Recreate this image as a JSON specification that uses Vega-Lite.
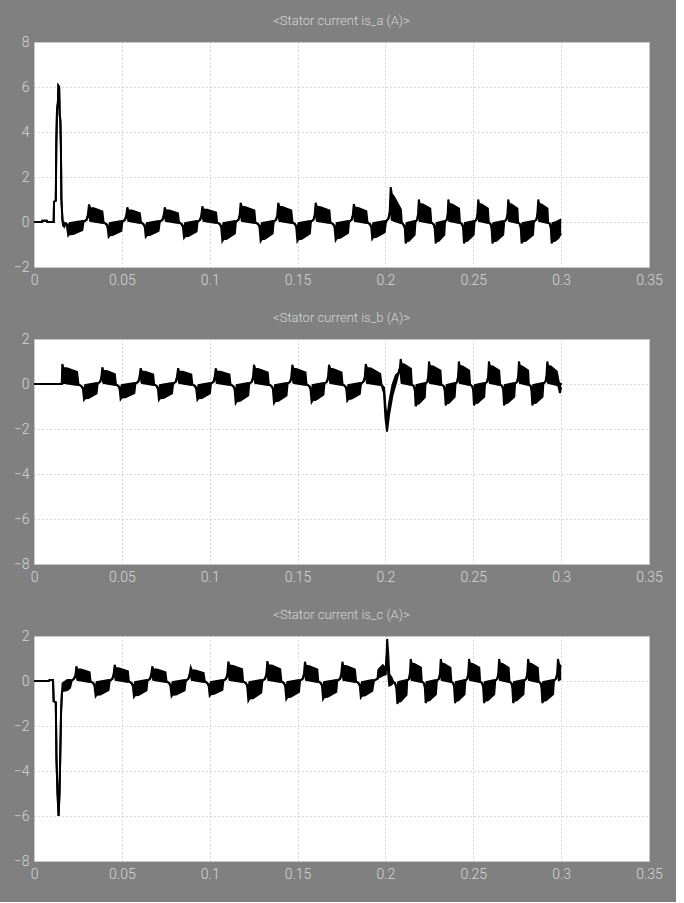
{
"$schema": "https://vega.github.io/schema/vega-lite/v6.json",
"background": "#808080",
"padding": {"left": 12, "top": 14, "right": 13, "bottom": 20},
"datasets": {
"a": [
{"t":0,"lo":0,"hi":0},{"t":0.0045,"lo":0,"hi":0},{"t":0.0047,"lo":0.06,"hi":0.06},{"t":0.0073,"lo":0.06,"hi":0.06},{"t":0.0075,"lo":0,"hi":0},{"t":0.0112,"lo":0,"hi":0},
{"t":0.0114,"lo":0.9,"hi":0.9},{"t":0.0124,"lo":0.95,"hi":0.95},{"t":0.0127,"lo":3.5,"hi":3.5},{"t":0.0131,"lo":5.0,"hi":5.0},{"t":0.0136,"lo":5.3,"hi":5.3},{"t":0.0139,"lo":6.05,"hi":6.05},{"t":0.0143,"lo":6.0,"hi":6.0},{"t":0.0146,"lo":4.8,"hi":4.8},{"t":0.015,"lo":4.5,"hi":4.5},{"t":0.0153,"lo":3.4,"hi":3.4},{"t":0.0156,"lo":1.0,"hi":1.0},{"t":0.0162,"lo":0.1,"hi":0.1},{"t":0.0166,"lo":-0.15,"hi":-0.15},{"t":0.0172,"lo":-0.2,"hi":-0.2},{"t":0.0178,"lo":-0.05,"hi":-0.05},{"t":0.0186,"lo":-0.1,"hi":-0.1},
{"t":0.0195,"lo":-0.6,"hi":-0.24},{"t":0.0202,"lo":-0.54,"hi":-0.05},{"t":0.0223,"lo":-0.53,"hi":-0.02},{"t":0.0275,"lo":-0.36,"hi":0.04},{"t":0.0282,"lo":0.02,"hi":0.02},{"t":0.0299,"lo":0.1,"hi":0.1},{"t":0.0306,"lo":0.28,"hi":0.28},
{"t":0.0313,"lo":0.31,"hi":0.78},{"t":0.032,"lo":0.05,"hi":0.62},{"t":0.034,"lo":0.02,"hi":0.61},{"t":0.0389,"lo":-0.04,"hi":0.47},{"t":0.0396,"lo":-0.02,"hi":-0.02},{"t":0.0412,"lo":-0.1,"hi":-0.1},{"t":0.0418,"lo":-0.2,"hi":-0.2},
{"t":0.0425,"lo":-0.65,"hi":-0.26},{"t":0.0431,"lo":-0.59,"hi":-0.05},{"t":0.045,"lo":-0.57,"hi":-0.02},{"t":0.0497,"lo":-0.39,"hi":0.04},{"t":0.0503,"lo":0.02,"hi":0.02},{"t":0.0518,"lo":0.1,"hi":0.1},{"t":0.0525,"lo":0.28,"hi":0.28},
{"t":0.0531,"lo":0.26,"hi":0.65},{"t":0.0537,"lo":0.05,"hi":0.52},{"t":0.0556,"lo":0.02,"hi":0.51},{"t":0.0602,"lo":-0.04,"hi":0.39},{"t":0.0609,"lo":-0.02,"hi":-0.02},{"t":0.0623,"lo":-0.1,"hi":-0.1},{"t":0.063,"lo":-0.2,"hi":-0.2},
{"t":0.0636,"lo":-0.65,"hi":-0.26},{"t":0.0642,"lo":-0.59,"hi":-0.05},{"t":0.0662,"lo":-0.57,"hi":-0.02},{"t":0.0709,"lo":-0.39,"hi":0.04},{"t":0.0716,"lo":0.02,"hi":0.02},{"t":0.0731,"lo":0.1,"hi":0.1},{"t":0.0738,"lo":0.28,"hi":0.28},
{"t":0.0744,"lo":0.26,"hi":0.65},{"t":0.075,"lo":0.05,"hi":0.52},{"t":0.077,"lo":0.02,"hi":0.51},{"t":0.0819,"lo":-0.04,"hi":0.39},{"t":0.0825,"lo":-0.02,"hi":-0.02},{"t":0.0841,"lo":-0.1,"hi":-0.1},{"t":0.0847,"lo":-0.2,"hi":-0.2},
{"t":0.0854,"lo":-0.7,"hi":-0.28},{"t":0.086,"lo":-0.63,"hi":-0.05},{"t":0.0879,"lo":-0.62,"hi":-0.02},{"t":0.0925,"lo":-0.42,"hi":0.04},{"t":0.0931,"lo":0.02,"hi":0.02},{"t":0.0946,"lo":0.1,"hi":0.1},{"t":0.0952,"lo":0.28,"hi":0.28},
{"t":0.0958,"lo":0.28,"hi":0.7},{"t":0.0965,"lo":0.05,"hi":0.56},{"t":0.0985,"lo":0.02,"hi":0.55},{"t":0.1036,"lo":-0.04,"hi":0.42},{"t":0.1042,"lo":-0.02,"hi":-0.02},{"t":0.1058,"lo":-0.1,"hi":-0.1},{"t":0.1065,"lo":-0.2,"hi":-0.2},
{"t":0.1072,"lo":-0.85,"hi":-0.34},{"t":0.1078,"lo":-0.77,"hi":-0.05},{"t":0.1097,"lo":-0.75,"hi":-0.02},{"t":0.1143,"lo":-0.51,"hi":0.04},{"t":0.1149,"lo":0.02,"hi":0.02},{"t":0.1164,"lo":0.1,"hi":0.1},{"t":0.117,"lo":0.28,"hi":0.28},
{"t":0.1176,"lo":0.34,"hi":0.85},{"t":0.1183,"lo":0.05,"hi":0.68},{"t":0.1203,"lo":0.02,"hi":0.66},{"t":0.1254,"lo":-0.04,"hi":0.51},{"t":0.126,"lo":-0.02,"hi":-0.02},{"t":0.1276,"lo":-0.1,"hi":-0.1},{"t":0.1283,"lo":-0.2,"hi":-0.2},
{"t":0.129,"lo":-0.85,"hi":-0.34},{"t":0.1296,"lo":-0.77,"hi":-0.05},{"t":0.1314,"lo":-0.75,"hi":-0.02},{"t":0.1358,"lo":-0.51,"hi":0.04},{"t":0.1364,"lo":0.02,"hi":0.02},{"t":0.1378,"lo":0.1,"hi":0.1},{"t":0.1384,"lo":0.28,"hi":0.28},
{"t":0.139,"lo":0.34,"hi":0.85},{"t":0.1397,"lo":0.05,"hi":0.68},{"t":0.1416,"lo":0.02,"hi":0.66},{"t":0.1464,"lo":-0.04,"hi":0.51},{"t":0.1471,"lo":-0.02,"hi":-0.02},{"t":0.1486,"lo":-0.1,"hi":-0.1},{"t":0.1492,"lo":-0.2,"hi":-0.2},
{"t":0.1499,"lo":-0.85,"hi":-0.34},{"t":0.1505,"lo":-0.77,"hi":-0.05},{"t":0.1524,"lo":-0.75,"hi":-0.02},{"t":0.157,"lo":-0.51,"hi":0.04},{"t":0.1576,"lo":0.02,"hi":0.02},{"t":0.1591,"lo":0.1,"hi":0.1},{"t":0.1597,"lo":0.28,"hi":0.28},
{"t":0.1603,"lo":0.34,"hi":0.85},{"t":0.161,"lo":0.05,"hi":0.68},{"t":0.163,"lo":0.02,"hi":0.66},{"t":0.1681,"lo":-0.04,"hi":0.51},{"t":0.1687,"lo":-0.02,"hi":-0.02},{"t":0.1703,"lo":-0.1,"hi":-0.1},{"t":0.171,"lo":-0.2,"hi":-0.2},
{"t":0.1717,"lo":-0.8,"hi":-0.32},{"t":0.1723,"lo":-0.72,"hi":-0.05},{"t":0.1742,"lo":-0.7,"hi":-0.02},{"t":0.1787,"lo":-0.48,"hi":0.04},{"t":0.1793,"lo":0.02,"hi":0.02},{"t":0.1808,"lo":0.1,"hi":0.1},{"t":0.1814,"lo":0.28,"hi":0.28},
{"t":0.182,"lo":0.32,"hi":0.8},{"t":0.1826,"lo":0.05,"hi":0.64},{"t":0.1845,"lo":0.02,"hi":0.62},{"t":0.1891,"lo":-0.04,"hi":0.48},{"t":0.1898,"lo":-0.02,"hi":-0.02},{"t":0.1912,"lo":-0.1,"hi":-0.1},{"t":0.1919,"lo":-0.2,"hi":-0.2},
{"t":0.1925,"lo":-0.75,"hi":-0.3},{"t":0.1931,"lo":-0.68,"hi":-0.05},{"t":0.195,"lo":-0.66,"hi":-0.02},{"t":0.1996,"lo":-0.45,"hi":0.04},{"t":0.2003,"lo":0.02,"hi":0.02},{"t":0.2017,"lo":0.15,"hi":0.15},{"t":0.2024,"lo":0.4,"hi":0.4},
{"t":0.203,"lo":0.6,"hi":1.55},{"t":0.2036,"lo":0.1,"hi":1.25},{"t":0.205,"lo":0.05,"hi":1.1},{"t":0.2088,"lo":-0.05,"hi":0.55},{"t":0.2093,"lo":-0.02,"hi":-0.02},{"t":0.2105,"lo":-0.15,"hi":-0.15},{"t":0.211,"lo":-0.25,"hi":-0.25},
{"t":0.2115,"lo":-0.95,"hi":-0.38},{"t":0.212,"lo":-0.86,"hi":-0.05},{"t":0.2133,"lo":-0.84,"hi":-0.02},{"t":0.2166,"lo":-0.57,"hi":0.04},{"t":0.2171,"lo":0.02,"hi":0.02},{"t":0.2181,"lo":0.1,"hi":0.1},{"t":0.2185,"lo":0.3,"hi":0.3},
{"t":0.219,"lo":0.4,"hi":1.0},{"t":0.2195,"lo":0.05,"hi":0.8},{"t":0.2213,"lo":0.02,"hi":0.78},{"t":0.2255,"lo":-0.04,"hi":0.6},{"t":0.2261,"lo":-0.02,"hi":-0.02},{"t":0.2274,"lo":-0.1,"hi":-0.1},{"t":0.228,"lo":-0.24,"hi":-0.24},
{"t":0.2286,"lo":-0.95,"hi":-0.38},{"t":0.2291,"lo":-0.86,"hi":-0.05},{"t":0.2303,"lo":-0.84,"hi":-0.02},{"t":0.2335,"lo":-0.57,"hi":0.04},{"t":0.2339,"lo":0.02,"hi":0.02},{"t":0.2349,"lo":0.1,"hi":0.1},{"t":0.2354,"lo":0.3,"hi":0.3},
{"t":0.2358,"lo":0.4,"hi":1.0},{"t":0.2363,"lo":0.05,"hi":0.8},{"t":0.2379,"lo":0.02,"hi":0.78},{"t":0.2419,"lo":-0.04,"hi":0.6},{"t":0.2424,"lo":-0.02,"hi":-0.02},{"t":0.2436,"lo":-0.1,"hi":-0.1},{"t":0.2442,"lo":-0.24,"hi":-0.24},
{"t":0.2447,"lo":-0.95,"hi":-0.38},{"t":0.2452,"lo":-0.86,"hi":-0.05},{"t":0.2466,"lo":-0.84,"hi":-0.02},{"t":0.2502,"lo":-0.57,"hi":0.04},{"t":0.2507,"lo":0.02,"hi":0.02},{"t":0.2518,"lo":0.1,"hi":0.1},{"t":0.2523,"lo":0.3,"hi":0.3},
{"t":0.2528,"lo":0.4,"hi":1.0},{"t":0.2533,"lo":0.05,"hi":0.8},{"t":0.2547,"lo":0.02,"hi":0.78},{"t":0.2583,"lo":-0.04,"hi":0.6},{"t":0.2588,"lo":-0.02,"hi":-0.02},{"t":0.2599,"lo":-0.1,"hi":-0.1},{"t":0.2604,"lo":-0.24,"hi":-0.24},
{"t":0.2609,"lo":-0.95,"hi":-0.38},{"t":0.2614,"lo":-0.86,"hi":-0.05},{"t":0.2631,"lo":-0.84,"hi":-0.02},{"t":0.267,"lo":-0.57,"hi":0.04},{"t":0.2676,"lo":0.02,"hi":0.02},{"t":0.2688,"lo":0.1,"hi":0.1},{"t":0.2694,"lo":0.3,"hi":0.3},
{"t":0.2699,"lo":0.4,"hi":1.0},{"t":0.2704,"lo":0.05,"hi":0.8},{"t":0.2717,"lo":0.02,"hi":0.78},{"t":0.2751,"lo":-0.04,"hi":0.6},{"t":0.2755,"lo":-0.02,"hi":-0.02},{"t":0.2766,"lo":-0.1,"hi":-0.1},{"t":0.277,"lo":-0.24,"hi":-0.24},
{"t":0.2775,"lo":-0.95,"hi":-0.38},{"t":0.278,"lo":-0.86,"hi":-0.05},{"t":0.2798,"lo":-0.84,"hi":-0.02},{"t":0.284,"lo":-0.57,"hi":0.04},{"t":0.2845,"lo":0.02,"hi":0.02},{"t":0.2859,"lo":0.1,"hi":0.1},{"t":0.2864,"lo":0.3,"hi":0.3},
{"t":0.287,"lo":0.4,"hi":1.0},{"t":0.2875,"lo":0.05,"hi":0.8},{"t":0.2888,"lo":0.02,"hi":0.78},{"t":0.2922,"lo":-0.04,"hi":0.6},{"t":0.2926,"lo":-0.02,"hi":-0.02},{"t":0.2937,"lo":-0.1,"hi":-0.1},{"t":0.2941,"lo":-0.24,"hi":-0.24},
{"t":0.2946,"lo":-0.95,"hi":-0.38},{"t":0.2951,"lo":-0.86,"hi":-0.05},{"t":0.2965,"lo":-0.84,"hi":-0.02},{"t":0.2985,"lo":-0.7,"hi":0.05},{"t":0.3,"lo":-0.5,"hi":0.12}
],
"b": [
{"t":0,"lo":0,"hi":0},{"t":0.0158,"lo":0,"hi":0},
{"t":0.0161,"lo":0.36,"hi":0.89},{"t":0.0168,"lo":0.05,"hi":0.71},{"t":0.0191,"lo":0.02,"hi":0.69},{"t":0.0245,"lo":-0.04,"hi":0.53},{"t":0.0253,"lo":-0.02,"hi":-0.02},{"t":0.027,"lo":-0.1,"hi":-0.1},{"t":0.0278,"lo":-0.2,"hi":-0.2},
{"t":0.0285,"lo":-0.7,"hi":-0.28},{"t":0.0291,"lo":-0.63,"hi":-0.05},{"t":0.031,"lo":-0.62,"hi":-0.02},{"t":0.0356,"lo":-0.42,"hi":0.04},{"t":0.0362,"lo":0.02,"hi":0.02},{"t":0.0377,"lo":0.1,"hi":0.1},{"t":0.0383,"lo":0.28,"hi":0.28},
{"t":0.0389,"lo":0.3,"hi":0.74},{"t":0.0395,"lo":0.05,"hi":0.59},{"t":0.0414,"lo":0.02,"hi":0.58},{"t":0.046,"lo":-0.04,"hi":0.44},{"t":0.0466,"lo":-0.02,"hi":-0.02},{"t":0.0481,"lo":-0.1,"hi":-0.1},{"t":0.0487,"lo":-0.2,"hi":-0.2},
{"t":0.0493,"lo":-0.67,"hi":-0.27},{"t":0.0499,"lo":-0.6,"hi":-0.05},{"t":0.052,"lo":-0.59,"hi":-0.02},{"t":0.0571,"lo":-0.4,"hi":0.04},{"t":0.0577,"lo":0.02,"hi":0.02},{"t":0.0593,"lo":0.1,"hi":0.1},{"t":0.06,"lo":0.28,"hi":0.28},
{"t":0.0607,"lo":0.28,"hi":0.7},{"t":0.0613,"lo":0.05,"hi":0.56},{"t":0.0632,"lo":0.02,"hi":0.55},{"t":0.0678,"lo":-0.04,"hi":0.42},{"t":0.0684,"lo":-0.02,"hi":-0.02},{"t":0.0699,"lo":-0.1,"hi":-0.1},{"t":0.0705,"lo":-0.2,"hi":-0.2},
{"t":0.0711,"lo":-0.7,"hi":-0.28},{"t":0.0717,"lo":-0.63,"hi":-0.05},{"t":0.0737,"lo":-0.62,"hi":-0.02},{"t":0.0785,"lo":-0.42,"hi":0.04},{"t":0.0792,"lo":0.02,"hi":0.02},{"t":0.0807,"lo":0.1,"hi":0.1},{"t":0.0813,"lo":0.28,"hi":0.28},
{"t":0.082,"lo":0.28,"hi":0.7},{"t":0.0826,"lo":0.05,"hi":0.56},{"t":0.0846,"lo":0.02,"hi":0.55},{"t":0.0895,"lo":-0.04,"hi":0.42},{"t":0.0901,"lo":-0.02,"hi":-0.02},{"t":0.0917,"lo":-0.1,"hi":-0.1},{"t":0.0923,"lo":-0.2,"hi":-0.2},
{"t":0.093,"lo":-0.7,"hi":-0.28},{"t":0.0936,"lo":-0.63,"hi":-0.05},{"t":0.0955,"lo":-0.62,"hi":-0.02},{"t":0.1001,"lo":-0.42,"hi":0.04},{"t":0.1007,"lo":0.02,"hi":0.02},{"t":0.1022,"lo":0.1,"hi":0.1},{"t":0.1028,"lo":0.28,"hi":0.28},
{"t":0.1034,"lo":0.28,"hi":0.7},{"t":0.104,"lo":0.05,"hi":0.56},{"t":0.1061,"lo":0.02,"hi":0.55},{"t":0.1112,"lo":-0.04,"hi":0.42},{"t":0.1118,"lo":-0.02,"hi":-0.02},{"t":0.1134,"lo":-0.1,"hi":-0.1},{"t":0.1141,"lo":-0.2,"hi":-0.2},
{"t":0.1148,"lo":-0.85,"hi":-0.34},{"t":0.1154,"lo":-0.77,"hi":-0.05},{"t":0.1173,"lo":-0.75,"hi":-0.02},{"t":0.1219,"lo":-0.51,"hi":0.04},{"t":0.1225,"lo":0.02,"hi":0.02},{"t":0.124,"lo":0.1,"hi":0.1},{"t":0.1246,"lo":0.28,"hi":0.28},
{"t":0.1252,"lo":0.34,"hi":0.85},{"t":0.1259,"lo":0.05,"hi":0.68},{"t":0.1279,"lo":0.02,"hi":0.66},{"t":0.133,"lo":-0.04,"hi":0.51},{"t":0.1336,"lo":-0.02,"hi":-0.02},{"t":0.1352,"lo":-0.1,"hi":-0.1},{"t":0.1359,"lo":-0.2,"hi":-0.2},
{"t":0.1366,"lo":-0.85,"hi":-0.34},{"t":0.1372,"lo":-0.77,"hi":-0.05},{"t":0.1391,"lo":-0.75,"hi":-0.02},{"t":0.1437,"lo":-0.51,"hi":0.04},{"t":0.1443,"lo":0.02,"hi":0.02},{"t":0.1458,"lo":0.1,"hi":0.1},{"t":0.1464,"lo":0.28,"hi":0.28},
{"t":0.147,"lo":0.34,"hi":0.85},{"t":0.1477,"lo":0.05,"hi":0.68},{"t":0.1496,"lo":0.02,"hi":0.66},{"t":0.1545,"lo":-0.04,"hi":0.51},{"t":0.1551,"lo":-0.02,"hi":-0.02},{"t":0.1567,"lo":-0.1,"hi":-0.1},{"t":0.1573,"lo":-0.2,"hi":-0.2},
{"t":0.158,"lo":-0.8,"hi":-0.32},{"t":0.1586,"lo":-0.72,"hi":-0.05},{"t":0.1604,"lo":-0.7,"hi":-0.02},{"t":0.1647,"lo":-0.48,"hi":0.04},{"t":0.1653,"lo":0.02,"hi":0.02},{"t":0.1667,"lo":0.1,"hi":0.1},{"t":0.1673,"lo":0.28,"hi":0.28},
{"t":0.1679,"lo":0.34,"hi":0.85},{"t":0.1686,"lo":0.05,"hi":0.68},{"t":0.1704,"lo":0.02,"hi":0.66},{"t":0.175,"lo":-0.04,"hi":0.51},{"t":0.1756,"lo":-0.02,"hi":-0.02},{"t":0.1771,"lo":-0.1,"hi":-0.1},{"t":0.1777,"lo":-0.2,"hi":-0.2},
{"t":0.1783,"lo":-0.74,"hi":-0.3},{"t":0.1789,"lo":-0.67,"hi":-0.05},{"t":0.1808,"lo":-0.65,"hi":-0.02},{"t":0.1854,"lo":-0.44,"hi":0.04},{"t":0.1861,"lo":0.02,"hi":0.02},{"t":0.1875,"lo":0.1,"hi":0.1},{"t":0.1882,"lo":0.28,"hi":0.28},
{"t":0.1888,"lo":0.36,"hi":0.89},{"t":0.1895,"lo":0.05,"hi":0.71},{"t":0.1917,"lo":0.02,"hi":0.69},{"t":0.197,"lo":-0.04,"hi":0.45},{"t":0.1978,"lo":-0.05,"hi":-0.05},{"t":0.1992,"lo":-0.4,"hi":-0.15},{"t":0.2,"lo":-1.5,"hi":-1.0},
{"t":0.2009,"lo":-2.12,"hi":-1.6},{"t":0.2022,"lo":-1.3,"hi":-0.8},{"t":0.204,"lo":-0.5,"hi":-0.05},{"t":0.206,"lo":0.05,"hi":0.4},{"t":0.2075,"lo":0.5,"hi":0.5},{"t":0.2082,"lo":0.7,"hi":0.7},
{"t":0.2087,"lo":0.45,"hi":1.11},{"t":0.2092,"lo":0.05,"hi":0.89},{"t":0.2107,"lo":0.02,"hi":0.87},{"t":0.2145,"lo":-0.04,"hi":0.67},{"t":0.215,"lo":-0.02,"hi":-0.02},{"t":0.2162,"lo":-0.1,"hi":-0.1},{"t":0.2167,"lo":-0.25,"hi":-0.25},
{"t":0.2172,"lo":-0.99,"hi":-0.4},{"t":0.2177,"lo":-0.89,"hi":-0.05},{"t":0.219,"lo":-0.87,"hi":-0.02},{"t":0.2224,"lo":-0.59,"hi":0.04},{"t":0.2228,"lo":0.02,"hi":0.02},{"t":0.2239,"lo":0.1,"hi":0.1},{"t":0.2243,"lo":0.3,"hi":0.3},
{"t":0.2248,"lo":0.4,"hi":1.0},{"t":0.2253,"lo":0.05,"hi":0.8},{"t":0.2271,"lo":0.02,"hi":0.78},{"t":0.2313,"lo":-0.04,"hi":0.6},{"t":0.2318,"lo":-0.02,"hi":-0.02},{"t":0.2332,"lo":-0.1,"hi":-0.1},{"t":0.2337,"lo":-0.24,"hi":-0.24},
{"t":0.2343,"lo":-0.95,"hi":-0.38},{"t":0.2348,"lo":-0.86,"hi":-0.05},{"t":0.2361,"lo":-0.84,"hi":-0.02},{"t":0.2394,"lo":-0.57,"hi":0.04},{"t":0.2399,"lo":0.02,"hi":0.02},{"t":0.2409,"lo":0.1,"hi":0.1},{"t":0.2413,"lo":0.3,"hi":0.3},
{"t":0.2418,"lo":0.4,"hi":1.0},{"t":0.2423,"lo":0.05,"hi":0.8},{"t":0.2439,"lo":0.02,"hi":0.78},{"t":0.2476,"lo":-0.04,"hi":0.6},{"t":0.2482,"lo":-0.02,"hi":-0.02},{"t":0.2494,"lo":-0.1,"hi":-0.1},{"t":0.2499,"lo":-0.24,"hi":-0.24},
{"t":0.2504,"lo":-0.95,"hi":-0.38},{"t":0.2509,"lo":-0.86,"hi":-0.05},{"t":0.2524,"lo":-0.84,"hi":-0.02},{"t":0.2562,"lo":-0.57,"hi":0.04},{"t":0.2567,"lo":0.02,"hi":0.02},{"t":0.2579,"lo":0.1,"hi":0.1},{"t":0.2584,"lo":0.3,"hi":0.3},
{"t":0.2589,"lo":0.4,"hi":1.0},{"t":0.2594,"lo":0.05,"hi":0.8},{"t":0.261,"lo":0.02,"hi":0.78},{"t":0.2647,"lo":-0.04,"hi":0.6},{"t":0.2653,"lo":-0.02,"hi":-0.02},{"t":0.2665,"lo":-0.1,"hi":-0.1},{"t":0.267,"lo":-0.24,"hi":-0.24},
{"t":0.2675,"lo":-0.95,"hi":-0.38},{"t":0.268,"lo":-0.86,"hi":-0.05},{"t":0.2695,"lo":-0.84,"hi":-0.02},{"t":0.2733,"lo":-0.57,"hi":0.04},{"t":0.2738,"lo":0.02,"hi":0.02},{"t":0.275,"lo":0.1,"hi":0.1},{"t":0.2755,"lo":0.3,"hi":0.3},
{"t":0.276,"lo":0.4,"hi":1.0},{"t":0.2765,"lo":0.05,"hi":0.8},{"t":0.2778,"lo":0.02,"hi":0.78},{"t":0.2812,"lo":-0.04,"hi":0.6},{"t":0.2816,"lo":-0.02,"hi":-0.02},{"t":0.2827,"lo":-0.1,"hi":-0.1},{"t":0.2831,"lo":-0.24,"hi":-0.24},
{"t":0.2836,"lo":-0.95,"hi":-0.38},{"t":0.2841,"lo":-0.86,"hi":-0.05},{"t":0.2856,"lo":-0.84,"hi":-0.02},{"t":0.2894,"lo":-0.57,"hi":0.04},{"t":0.2899,"lo":0.02,"hi":0.02},{"t":0.2911,"lo":0.1,"hi":0.1},{"t":0.2916,"lo":0.3,"hi":0.3},
{"t":0.2921,"lo":0.4,"hi":1.0},{"t":0.2926,"lo":0.05,"hi":0.8},{"t":0.2941,"lo":0.02,"hi":0.78},{"t":0.2975,"lo":-0.04,"hi":0.55},{"t":0.2985,"lo":-0.1,"hi":0.15},{"t":0.2993,"lo":-0.4,"hi":-0.1},{"t":0.3,"lo":-0.15,"hi":0.05}
],
"c": [
{"t":0,"lo":0,"hi":0},{"t":0.0085,"lo":0,"hi":0},{"t":0.0088,"lo":0.04,"hi":0.04},{"t":0.0108,"lo":0.04,"hi":0.04},
{"t":0.0112,"lo":-0.9,"hi":-0.9},{"t":0.0124,"lo":-0.95,"hi":-0.95},{"t":0.0128,"lo":-3.5,"hi":-3.5},{"t":0.0134,"lo":-5.0,"hi":-5.0},{"t":0.014,"lo":-6.0,"hi":-6.0},{"t":0.0145,"lo":-5.0,"hi":-5.0},{"t":0.0149,"lo":-3.5,"hi":-3.5},{"t":0.0154,"lo":-1.4,"hi":-1.4},{"t":0.0159,"lo":-0.5,"hi":-0.5},
{"t":0.0163,"lo":-0.45,"hi":-0.1},{"t":0.019,"lo":-0.4,"hi":0.05},{"t":0.0205,"lo":-0.3,"hi":0.05},{"t":0.0215,"lo":0.02,"hi":0.02},{"t":0.0228,"lo":0.1,"hi":0.1},{"t":0.0236,"lo":0.25,"hi":0.25},
{"t":0.0241,"lo":0.26,"hi":0.65},{"t":0.0247,"lo":0.05,"hi":0.52},{"t":0.0267,"lo":0.02,"hi":0.51},{"t":0.0316,"lo":-0.04,"hi":0.39},{"t":0.0322,"lo":-0.02,"hi":-0.02},{"t":0.0338,"lo":-0.1,"hi":-0.1},{"t":0.0344,"lo":-0.2,"hi":-0.2},
{"t":0.0351,"lo":-0.68,"hi":-0.27},{"t":0.0357,"lo":-0.61,"hi":-0.05},{"t":0.0377,"lo":-0.6,"hi":-0.02},{"t":0.0424,"lo":-0.41,"hi":0.04},{"t":0.0431,"lo":0.02,"hi":0.02},{"t":0.0446,"lo":0.1,"hi":0.1},{"t":0.0453,"lo":0.28,"hi":0.28},
{"t":0.0459,"lo":0.29,"hi":0.72},{"t":0.0465,"lo":0.05,"hi":0.58},{"t":0.0485,"lo":0.02,"hi":0.56},{"t":0.0534,"lo":-0.04,"hi":0.43},{"t":0.054,"lo":-0.02,"hi":-0.02},{"t":0.0556,"lo":-0.1,"hi":-0.1},{"t":0.0562,"lo":-0.2,"hi":-0.2},
{"t":0.0569,"lo":-0.7,"hi":-0.28},{"t":0.0575,"lo":-0.63,"hi":-0.05},{"t":0.0594,"lo":-0.62,"hi":-0.02},{"t":0.064,"lo":-0.42,"hi":0.04},{"t":0.0646,"lo":0.02,"hi":0.02},{"t":0.0661,"lo":0.1,"hi":0.1},{"t":0.0667,"lo":0.28,"hi":0.28},
{"t":0.0673,"lo":0.26,"hi":0.65},{"t":0.0679,"lo":0.05,"hi":0.52},{"t":0.0699,"lo":0.02,"hi":0.51},{"t":0.0748,"lo":-0.04,"hi":0.39},{"t":0.0754,"lo":-0.02,"hi":-0.02},{"t":0.077,"lo":-0.1,"hi":-0.1},{"t":0.0776,"lo":-0.2,"hi":-0.2},
{"t":0.0783,"lo":-0.68,"hi":-0.27},{"t":0.0789,"lo":-0.61,"hi":-0.05},{"t":0.0809,"lo":-0.6,"hi":-0.02},{"t":0.0857,"lo":-0.41,"hi":0.04},{"t":0.0864,"lo":0.02,"hi":0.02},{"t":0.0879,"lo":0.1,"hi":0.1},{"t":0.0885,"lo":0.26,"hi":0.26},
{"t":0.0892,"lo":0.24,"hi":0.6},{"t":0.0898,"lo":0.05,"hi":0.48},{"t":0.0918,"lo":0.02,"hi":0.47},{"t":0.0965,"lo":-0.04,"hi":0.36},{"t":0.0972,"lo":-0.02,"hi":-0.02},{"t":0.0987,"lo":-0.1,"hi":-0.1},{"t":0.0994,"lo":-0.2,"hi":-0.2},
{"t":0.1,"lo":-0.65,"hi":-0.26},{"t":0.1006,"lo":-0.59,"hi":-0.05},{"t":0.1025,"lo":-0.57,"hi":-0.02},{"t":0.1072,"lo":-0.39,"hi":0.04},{"t":0.1078,"lo":0.02,"hi":0.02},{"t":0.1093,"lo":0.1,"hi":0.1},{"t":0.11,"lo":0.28,"hi":0.28},
{"t":0.1106,"lo":0.34,"hi":0.86},{"t":0.1113,"lo":0.05,"hi":0.69},{"t":0.1133,"lo":0.02,"hi":0.67},{"t":0.1184,"lo":-0.04,"hi":0.52},{"t":0.119,"lo":-0.02,"hi":-0.02},{"t":0.1206,"lo":-0.1,"hi":-0.1},{"t":0.1213,"lo":-0.2,"hi":-0.2},
{"t":0.122,"lo":-0.87,"hi":-0.35},{"t":0.1226,"lo":-0.78,"hi":-0.05},{"t":0.1246,"lo":-0.77,"hi":-0.02},{"t":0.1293,"lo":-0.52,"hi":0.04},{"t":0.13,"lo":0.02,"hi":0.02},{"t":0.1315,"lo":0.1,"hi":0.1},{"t":0.1322,"lo":0.28,"hi":0.28},
{"t":0.1328,"lo":0.35,"hi":0.88},{"t":0.1334,"lo":0.05,"hi":0.7},{"t":0.1354,"lo":0.02,"hi":0.69},{"t":0.1401,"lo":-0.04,"hi":0.53},{"t":0.1408,"lo":-0.02,"hi":-0.02},{"t":0.1423,"lo":-0.1,"hi":-0.1},{"t":0.1429,"lo":-0.2,"hi":-0.2},
{"t":0.1436,"lo":-0.8,"hi":-0.32},{"t":0.1442,"lo":-0.72,"hi":-0.05},{"t":0.1461,"lo":-0.7,"hi":-0.02},{"t":0.1508,"lo":-0.48,"hi":0.04},{"t":0.1514,"lo":0.02,"hi":0.02},{"t":0.1529,"lo":0.1,"hi":0.1},{"t":0.1536,"lo":0.28,"hi":0.28},
{"t":0.1542,"lo":0.34,"hi":0.85},{"t":0.1548,"lo":0.05,"hi":0.68},{"t":0.1567,"lo":0.02,"hi":0.66},{"t":0.1612,"lo":-0.04,"hi":0.51},{"t":0.1618,"lo":-0.02,"hi":-0.02},{"t":0.1633,"lo":-0.1,"hi":-0.1},{"t":0.1639,"lo":-0.2,"hi":-0.2},
{"t":0.1645,"lo":-0.8,"hi":-0.32},{"t":0.1651,"lo":-0.72,"hi":-0.05},{"t":0.1671,"lo":-0.7,"hi":-0.02},{"t":0.172,"lo":-0.48,"hi":0.04},{"t":0.1726,"lo":0.02,"hi":0.02},{"t":0.1742,"lo":0.1,"hi":0.1},{"t":0.1748,"lo":0.28,"hi":0.28},
{"t":0.1755,"lo":0.34,"hi":0.85},{"t":0.1761,"lo":0.05,"hi":0.68},{"t":0.178,"lo":0.02,"hi":0.66},{"t":0.1826,"lo":-0.04,"hi":0.51},{"t":0.1833,"lo":-0.02,"hi":-0.02},{"t":0.1847,"lo":-0.1,"hi":-0.1},{"t":0.1854,"lo":-0.2,"hi":-0.2},
{"t":0.186,"lo":-0.73,"hi":-0.29},{"t":0.1866,"lo":-0.66,"hi":-0.05},{"t":0.1885,"lo":-0.64,"hi":-0.02},{"t":0.1925,"lo":-0.44,"hi":0.04},{"t":0.1935,"lo":0.02,"hi":0.02},{"t":0.1955,"lo":0.1,"hi":0.1},{"t":0.196,"lo":0.15,"hi":0.5},{"t":0.1985,"lo":0.25,"hi":0.7},{"t":0.2002,"lo":0.3,"hi":0.55},{"t":0.2006,"lo":1.0,"hi":1.0},
{"t":0.201,"lo":1.3,"hi":1.87},{"t":0.2016,"lo":0.3,"hi":1.2},{"t":0.2022,"lo":-0.2,"hi":0.3},{"t":0.2035,"lo":-0.15,"hi":0.15},{"t":0.2045,"lo":-0.05,"hi":-0.05},{"t":0.2055,"lo":-0.1,"hi":-0.1},{"t":0.2062,"lo":-0.3,"hi":-0.3},
{"t":0.2068,"lo":-1.02,"hi":-0.41},{"t":0.2073,"lo":-0.92,"hi":-0.05},{"t":0.2086,"lo":-0.9,"hi":-0.02},{"t":0.212,"lo":-0.61,"hi":0.04},{"t":0.2124,"lo":0.02,"hi":0.02},{"t":0.2135,"lo":0.1,"hi":0.1},{"t":0.2139,"lo":0.3,"hi":0.3},
{"t":0.2144,"lo":0.39,"hi":0.98},{"t":0.2149,"lo":0.05,"hi":0.78},{"t":0.2164,"lo":0.02,"hi":0.76},{"t":0.2202,"lo":-0.04,"hi":0.59},{"t":0.2207,"lo":-0.02,"hi":-0.02},{"t":0.2219,"lo":-0.1,"hi":-0.1},{"t":0.2224,"lo":-0.25,"hi":-0.25},
{"t":0.2229,"lo":-0.98,"hi":-0.39},{"t":0.2234,"lo":-0.88,"hi":-0.05},{"t":0.225,"lo":-0.86,"hi":-0.02},{"t":0.2287,"lo":-0.59,"hi":0.04},{"t":0.2293,"lo":0.02,"hi":0.02},{"t":0.2305,"lo":0.1,"hi":0.1},{"t":0.231,"lo":0.3,"hi":0.3},
{"t":0.2315,"lo":0.39,"hi":0.98},{"t":0.232,"lo":0.05,"hi":0.78},{"t":0.2334,"lo":0.02,"hi":0.76},{"t":0.237,"lo":-0.04,"hi":0.59},{"t":0.2375,"lo":-0.02,"hi":-0.02},{"t":0.2386,"lo":-0.1,"hi":-0.1},{"t":0.2391,"lo":-0.25,"hi":-0.25},
{"t":0.2396,"lo":-0.98,"hi":-0.39},{"t":0.2401,"lo":-0.88,"hi":-0.05},{"t":0.2415,"lo":-0.86,"hi":-0.02},{"t":0.245,"lo":-0.59,"hi":0.04},{"t":0.2455,"lo":0.02,"hi":0.02},{"t":0.2466,"lo":0.1,"hi":0.1},{"t":0.2471,"lo":0.3,"hi":0.3},
{"t":0.2476,"lo":0.39,"hi":0.98},{"t":0.2481,"lo":0.05,"hi":0.78},{"t":0.2496,"lo":0.02,"hi":0.76},{"t":0.2534,"lo":-0.04,"hi":0.59},{"t":0.2539,"lo":-0.02,"hi":-0.02},{"t":0.2551,"lo":-0.1,"hi":-0.1},{"t":0.2556,"lo":-0.25,"hi":-0.25},
{"t":0.2561,"lo":-0.98,"hi":-0.39},{"t":0.2566,"lo":-0.88,"hi":-0.05},{"t":0.2582,"lo":-0.86,"hi":-0.02},{"t":0.2619,"lo":-0.59,"hi":0.04},{"t":0.2625,"lo":0.02,"hi":0.02},{"t":0.2637,"lo":0.1,"hi":0.1},{"t":0.2642,"lo":0.3,"hi":0.3},
{"t":0.2647,"lo":0.39,"hi":0.98},{"t":0.2652,"lo":0.05,"hi":0.78},{"t":0.2666,"lo":0.02,"hi":0.76},{"t":0.2701,"lo":-0.04,"hi":0.59},{"t":0.2706,"lo":-0.02,"hi":-0.02},{"t":0.2717,"lo":-0.1,"hi":-0.1},{"t":0.2722,"lo":-0.25,"hi":-0.25},
{"t":0.2727,"lo":-0.98,"hi":-0.39},{"t":0.2732,"lo":-0.88,"hi":-0.05},{"t":0.2747,"lo":-0.86,"hi":-0.02},{"t":0.2785,"lo":-0.59,"hi":0.04},{"t":0.279,"lo":0.02,"hi":0.02},{"t":0.2802,"lo":0.1,"hi":0.1},{"t":0.2807,"lo":0.3,"hi":0.3},
{"t":0.2812,"lo":0.39,"hi":0.98},{"t":0.2817,"lo":0.05,"hi":0.78},{"t":0.2831,"lo":0.02,"hi":0.76},{"t":0.2867,"lo":-0.04,"hi":0.59},{"t":0.2872,"lo":-0.02,"hi":-0.02},{"t":0.2883,"lo":-0.1,"hi":-0.1},{"t":0.2888,"lo":-0.25,"hi":-0.25},
{"t":0.2893,"lo":-0.98,"hi":-0.39},{"t":0.2898,"lo":-0.88,"hi":-0.05},{"t":0.2914,"lo":-0.86,"hi":-0.02},{"t":0.2954,"lo":-0.59,"hi":0.04},{"t":0.2959,"lo":0.02,"hi":0.02},{"t":0.2971,"lo":0.1,"hi":0.1},{"t":0.2977,"lo":0.3,"hi":0.3},
{"t":0.2982,"lo":0.39,"hi":0.98},{"t":0.2987,"lo":0.05,"hi":0.78},{"t":0.3,"lo":0.1,"hi":0.6}
]
},
"vconcat": [
{
"data": {"name": "a"},
"width": 615, "height": 225,
"title": {"text": "<Stator current is_a (A)>"},
"encoding": {"x": {"field": "t", "type": "quantitative", "title": null, "scale": {"domain": [0, 0.35], "nice": false, "zero": false}, "axis": {"values": [0, 0.05, 0.1, 0.15, 0.2, 0.25, 0.3, 0.35], "format": "~g", "labelFlush": false}}},
"layer": [
{"mark": {"type": "area", "color": "black", "opacity": 1}, "encoding": {"y": {"field": "lo", "type": "quantitative", "title": null, "scale": {"domain": [-2, 8], "nice": false, "zero": false}, "axis": {"values": [-2, 0, 2, 4, 6, 8]}}, "y2": {"field": "hi"}}},
{"mark": {"type": "line", "color": "black", "strokeWidth": 2}, "encoding": {"y": {"field": "hi", "type": "quantitative", "title": null}}},
{"mark": {"type": "line", "color": "black", "strokeWidth": 2}, "encoding": {"y": {"field": "lo", "type": "quantitative", "title": null}}}
]
},
{
"data": {"name": "b"},
"width": 615, "height": 225,
"title": {"text": "<Stator current is_b (A)>"},
"encoding": {"x": {"field": "t", "type": "quantitative", "title": null, "scale": {"domain": [0, 0.35], "nice": false, "zero": false}, "axis": {"values": [0, 0.05, 0.1, 0.15, 0.2, 0.25, 0.3, 0.35], "format": "~g", "labelFlush": false}}},
"layer": [
{"mark": {"type": "area", "color": "black", "opacity": 1}, "encoding": {"y": {"field": "lo", "type": "quantitative", "title": null, "scale": {"domain": [-8, 2], "nice": false, "zero": false}, "axis": {"values": [-8, -6, -4, -2, 0, 2]}}, "y2": {"field": "hi"}}},
{"mark": {"type": "line", "color": "black", "strokeWidth": 2}, "encoding": {"y": {"field": "hi", "type": "quantitative", "title": null}}},
{"mark": {"type": "line", "color": "black", "strokeWidth": 2}, "encoding": {"y": {"field": "lo", "type": "quantitative", "title": null}}}
]
},
{
"data": {"name": "c"},
"width": 615, "height": 225,
"title": {"text": "<Stator current is_c (A)>"},
"encoding": {"x": {"field": "t", "type": "quantitative", "title": null, "scale": {"domain": [0, 0.35], "nice": false, "zero": false}, "axis": {"values": [0, 0.05, 0.1, 0.15, 0.2, 0.25, 0.3, 0.35], "format": "~g", "labelFlush": false}}},
"layer": [
{"mark": {"type": "area", "color": "black", "opacity": 1}, "encoding": {"y": {"field": "lo", "type": "quantitative", "title": null, "scale": {"domain": [-8, 2], "nice": false, "zero": false}, "axis": {"values": [-8, -6, -4, -2, 0, 2]}}, "y2": {"field": "hi"}}},
{"mark": {"type": "line", "color": "black", "strokeWidth": 2}, "encoding": {"y": {"field": "hi", "type": "quantitative", "title": null}}},
{"mark": {"type": "line", "color": "black", "strokeWidth": 2}, "encoding": {"y": {"field": "lo", "type": "quantitative", "title": null}}}
]
}
],
"spacing": 72,
"bounds": "flush",
"config": {
"view": {"fill": "white", "stroke": "#cfcfcf", "strokeWidth": 1},
"axis": {"grid": true, "gridColor": "#b4b4b4", "gridDash": [1, 3], "gridWidth": 1, "domain": false, "ticks": false, "labelColor": "#d6d6d6", "labelFont": "Roboto", "labelFontWeight": 300, "labelFontSize": 14, "labelPadding": 6},
"axisY": {"labelPadding": 5},
"title": {"color": "#d6d6d6", "font": "Roboto", "fontSize": 13, "fontWeight": 300, "offset": 7, "anchor": "middle"}
}
}
